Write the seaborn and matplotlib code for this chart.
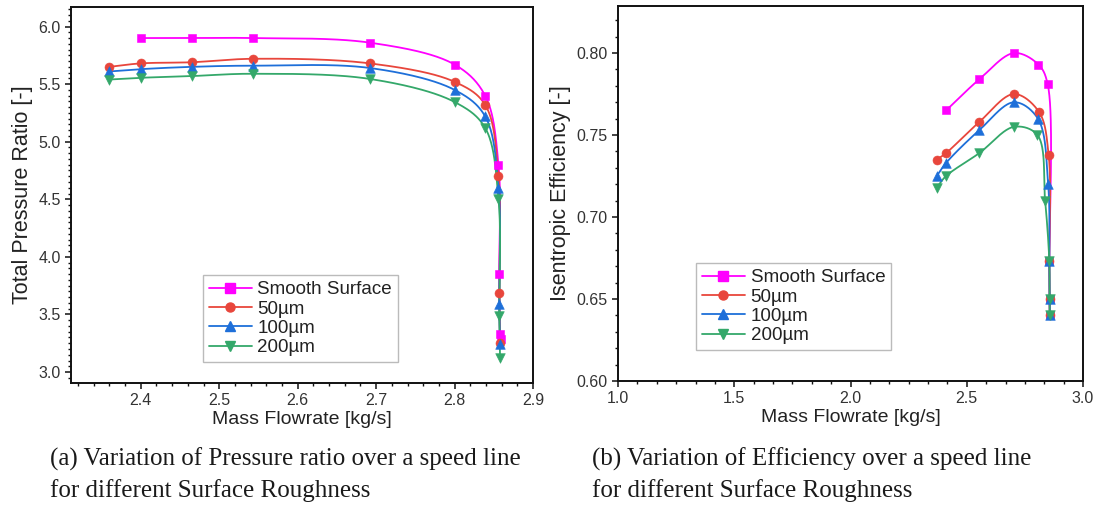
import numpy as np
import matplotlib
matplotlib.use("Agg")
import matplotlib.pyplot as plt
from matplotlib.lines import Line2D
from matplotlib.ticker import MultipleLocator, AutoMinorLocator, FormatStrFormatter
import seaborn as sns

# ---------------- data ----------------
series_names = ["Smooth Surface", "50µm", "100µm", "200µm"]

# (a) total pressure ratio vs mass flowrate
pr_x_smooth = [2.400, 2.465, 2.543, 2.692, 2.800, 2.839, 2.856, 2.857, 2.858, 2.859]
pr_y_smooth = [5.90, 5.90, 5.90, 5.86, 5.67, 5.40, 4.80, 3.85, 3.33, 3.29]
pr_x_rough = [2.360, 2.400, 2.465, 2.543, 2.692, 2.800, 2.839, 2.856, 2.857, 2.858]
pr_y_50 = [5.65, 5.68, 5.69, 5.72, 5.68, 5.52, 5.32, 4.70, 3.69, 3.25]
pr_y_100 = [5.61, 5.63, 5.65, 5.66, 5.64, 5.45, 5.22, 4.60, 3.59, 3.24]
pr_y_200 = [5.54, 5.555, 5.57, 5.59, 5.545, 5.345, 5.12, 4.50, 3.49, 3.12]

# (b) isentropic efficiency vs mass flowrate
ef_x_smooth = [2.411, 2.554, 2.703, 2.808, 2.848, 2.855, 2.856, 2.857]
ef_y_smooth = [0.765, 0.784, 0.800, 0.793, 0.781, 0.673, 0.650, 0.640]
ef_x_50 = [2.371, 2.411, 2.554, 2.703, 2.811, 2.852, 2.855, 2.856, 2.857]
ef_y_50 = [0.735, 0.739, 0.758, 0.775, 0.764, 0.738, 0.673, 0.650, 0.640]
ef_x_100 = [2.371, 2.411, 2.554, 2.703, 2.806, 2.850, 2.855, 2.856, 2.857]
ef_y_100 = [0.725, 0.733, 0.753, 0.770, 0.760, 0.720, 0.673, 0.650, 0.640]
ef_x_200 = [2.371, 2.411, 2.554, 2.703, 2.804, 2.837, 2.855, 2.856, 2.857]
ef_y_200 = [0.718, 0.725, 0.739, 0.755, 0.750, 0.710, 0.673, 0.650, 0.640]

caption_a = ["(a) Variation of Pressure ratio over a speed line",
             "for different Surface Roughness"]
caption_b = ["(b) Variation of Efficiency over a speed line",
             "for different Surface Roughness"]

# ---------------- style ----------------
colors = ["#FF00FF", "#E8463C", "#1E6FD9", "#34A86A"]
markers = ["s", "o", "^", "v"]
msizes = [36, 42, 48, 48]

sns.set_style("ticks")
plt.rcParams["font.family"] = ["Liberation Sans", "DejaVu Sans"]
plt.rcParams["axes.edgecolor"] = "#111111"
plt.rcParams["xtick.color"] = "#111111"
plt.rcParams["ytick.color"] = "#111111"
plt.rcParams["xtick.labelcolor"] = "#333333"
plt.rcParams["ytick.labelcolor"] = "#333333"


def smooth_curve(xs, ys, sx, sy, n=40):
    """Centripetal Catmull-Rom spline through the data points (drawing only)."""
    P = np.column_stack([np.asarray(xs, float) * sx, np.asarray(ys, float) * sy])
    P = np.vstack([2 * P[0] - P[1], P, 2 * P[-1] - P[-2]])
    out = []
    for i in range(1, len(P) - 2):
        p0, p1, p2, p3 = P[i - 1], P[i], P[i + 1], P[i + 2]
        t0 = 0.0
        t1 = t0 + max(np.linalg.norm(p1 - p0), 1e-9) ** 0.5
        t2 = t1 + max(np.linalg.norm(p2 - p1), 1e-9) ** 0.5
        t3 = t2 + max(np.linalg.norm(p3 - p2), 1e-9) ** 0.5
        t = np.linspace(t1, t2, n)[:, None]
        A1 = (t1 - t) / (t1 - t0) * p0 + (t - t0) / (t1 - t0) * p1
        A2 = (t2 - t) / (t2 - t1) * p1 + (t - t1) / (t2 - t1) * p2
        A3 = (t3 - t) / (t3 - t2) * p2 + (t - t2) / (t3 - t2) * p3
        B1 = (t2 - t) / (t2 - t0) * A1 + (t - t0) / (t2 - t0) * A2
        B2 = (t3 - t) / (t3 - t1) * A2 + (t - t1) / (t3 - t1) * A3
        C = (t2 - t) / (t2 - t1) * B1 + (t - t1) / (t2 - t1) * B2
        out.append(C)
    C = np.vstack(out)
    return C[:, 0] / sx, C[:, 1] / sy


fig = plt.figure(figsize=(11.04, 5.08), dpi=100)
axL = fig.add_axes([0.0643, 0.2461, 0.4185, 0.7402])
axR = fig.add_axes([0.5598, 0.2500, 0.4212, 0.7382])

left_sets = [(pr_x_smooth, pr_y_smooth), (pr_x_rough, pr_y_50),
             (pr_x_rough, pr_y_100), (pr_x_rough, pr_y_200)]
right_sets = [(ef_x_smooth, ef_y_smooth), (ef_x_50, ef_y_50),
              (ef_x_100, ef_y_100), (ef_x_200, ef_y_200)]

L_xlim, L_ylim = (2.311, 2.90), (2.905, 6.17)
R_xlim, R_ylim = (1.0, 3.0), (0.60, 0.8287)


def draw(ax, sets, xlim, ylim, wpx, hpx):
    sx = wpx / (xlim[1] - xlim[0])
    sy = hpx / (ylim[1] - ylim[0])
    for (xs, ys), c, m, s in zip(sets, colors, markers, msizes):
        cx, cy = smooth_curve(xs, ys, sx, sy)
        sns.lineplot(x=cx, y=cy, sort=False, estimator=None, ax=ax,
                     color=c, linewidth=1.3, zorder=2)
        sns.scatterplot(x=xs, y=ys, ax=ax, marker=m, s=s, color=c,
                        edgecolor=c, linewidth=0.4, zorder=3)
    ax.set_xlim(*xlim)
    ax.set_ylim(*ylim)


draw(axL, left_sets, L_xlim, L_ylim, 462, 376)
draw(axR, right_sets, R_xlim, R_ylim, 465, 375)

axL.xaxis.set_major_locator(MultipleLocator(0.1))
axL.xaxis.set_minor_locator(AutoMinorLocator(5))
axL.yaxis.set_major_locator(MultipleLocator(0.5))
axL.yaxis.set_minor_locator(AutoMinorLocator(10))
axR.xaxis.set_major_locator(MultipleLocator(0.5))
axR.xaxis.set_minor_locator(AutoMinorLocator(6))
axR.yaxis.set_major_locator(MultipleLocator(0.05))
axR.yaxis.set_minor_locator(AutoMinorLocator(5))
axL.yaxis.set_major_formatter(FormatStrFormatter("%.1f"))
axL.xaxis.set_major_formatter(FormatStrFormatter("%.1f"))
axR.xaxis.set_major_formatter(FormatStrFormatter("%.1f"))
axR.yaxis.set_major_formatter(FormatStrFormatter("%.2f"))

for ax in (axL, axR):
    for sp in ax.spines.values():
        sp.set_visible(True)
        sp.set_linewidth(1.4)
        sp.set_color("#111111")
    ax.tick_params(which="major", direction="out", length=4.5, width=1.1,
                   labelsize=11.5, pad=3)
    ax.tick_params(which="minor", direction="out", length=2.5, width=1.0)
    ax.tick_params(top=False, right=False, which="both")
    ax.set_xlabel("Mass Flowrate [kg/s]", fontsize=14, color="#222222", labelpad=2)

axL.set_ylabel("Total Pressure Ratio [-]", fontsize=15.5, color="#222222", labelpad=4)
axR.set_ylabel("Isentropic Efficiency [-]", fontsize=15.5, color="#222222", labelpad=4)

handles = [Line2D([0], [0], color=c, marker=m, markersize=6.5, linewidth=1.3,
                  markeredgecolor=c) for c, m in zip(colors, markers)]

for ax, anchor in ((axL, (0.2857, 0.0559)), (axR, (0.168, 0.0827))):
    leg = ax.legend(handles, series_names, loc="lower left", bbox_to_anchor=anchor,
                    borderaxespad=0, fontsize=13.5, frameon=True, fancybox=False,
                    handlelength=2.3, handletextpad=0.3, labelspacing=0.12,
                    borderpad=0.3)
    leg.get_frame().set_edgecolor("#AAAAAA")
    leg.get_frame().set_linewidth(1.0)
    for t in leg.get_texts():
        t.set_color("#222222")

serif = ["Liberation Serif", "DejaVu Serif"]
for cap, x0 in ((caption_a, 0.0453), (caption_b, 0.5362)):
    fig.text(x0, 1 - 459 / 508, cap[0], family=serif, fontsize=18,
             color="#1a1a1a", va="center", ha="left")
    fig.text(x0, 1 - 491 / 508, cap[1], family=serif, fontsize=18,
             color="#1a1a1a", va="center", ha="left")

fig.savefig("out.png", dpi=100)
